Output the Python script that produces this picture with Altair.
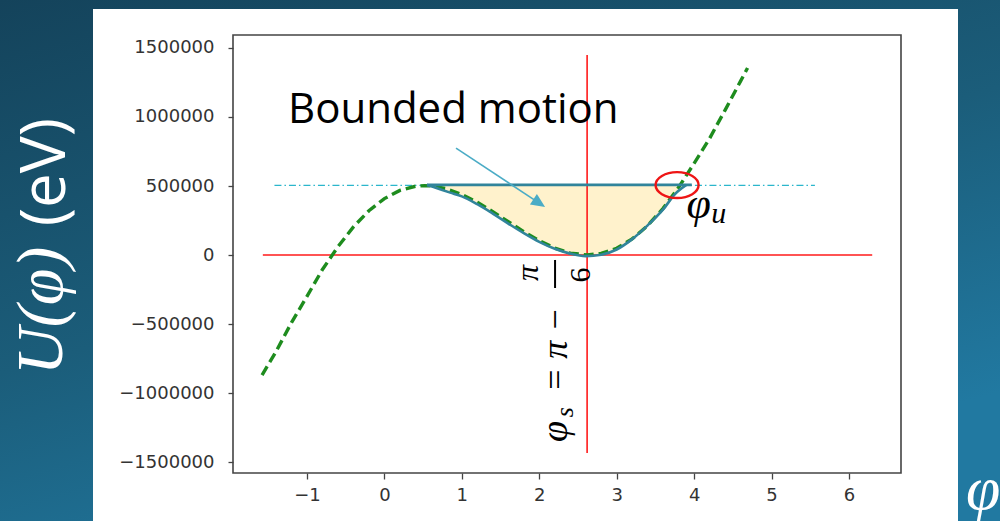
import altair as alt
import pandas as pd

# Potential well U(phi) in eV, sampled along the curve
phi = [-1.58, -1.4, -1.2, -1.0, -0.8, -0.6, -0.4, -0.2, 0.0, 0.2, 0.4, 0.52, 0.6,
       0.8, 1.0, 1.2, 1.4, 1.6, 1.8, 2.0, 2.2, 2.4, 2.62, 2.8, 3.0, 3.2, 3.4, 3.6,
       3.8, 4.0, 4.2, 4.4, 4.6, 4.69]
u_ev = [-870000, -700000, -490000, -300000, -105000, 60000, 204000, 321000, 409000,
        468000, 498000, 503000, 501000, 480000, 439000, 382000, 314000, 241000,
        169000, 104000, 50000, 14000, 0, 11000, 49000, 117000, 213000, 338000,
        490000, 664000, 845000, 1050000, 1260000, 1355000]

# Outline of the bounded-motion region
bound_phi = [0.55, 0.7, 0.85, 1.0, 1.2, 1.4, 1.6, 1.8, 2.0, 2.2, 2.4, 2.6, 2.8, 3.0,
             3.2, 3.4, 3.6, 3.75, 3.9]
bound_u = [508000, 480000, 452000, 425000, 368000, 300000, 228000, 158000, 95000,
           45000, 10000, -8000, 2000, 40000, 115000, 215000, 330000, 440000, 508000]
bound_top = 508000
bound_top_phi = [0.55, 3.97]

separatrix_u = 505000
separatrix_phi = [-1.42, 5.56]

phi_s = 2.618           # pi - pi/6
zero_line_phi = [-1.57, 6.30]
phi_s_line_u = [-1435000, 1450000]

phi_u_mark = (3.78, 507000)
arrow_from = (0.925, 775000)
arrow_to = (2.0, 376000)

x_ticks = [-1, 0, 1, 2, 3, 4, 5, 6]
y_ticks = [-1500000, -1000000, -500000, 0, 500000, 1000000, 1500000]

X_DOM = [-1.9553, 6.6718]
Y_DOM = [-1579700, 1594200]

W, H = 668, 438

xs = alt.Scale(domain=X_DOM, nice=False, zero=False)
ys = alt.Scale(domain=Y_DOM, nice=False, zero=False)

axis_common = dict(grid=False, domain=False, tickColor="#444444", tickWidth=1.3,
                   labelFont="DejaVu Sans", labelFontSize=18, labelColor="#333333",
                   title=None, zindex=1, format="d")
x_axis = alt.Axis(values=x_ticks, tickSize=6, labelPadding=7, **axis_common)
y_axis = alt.Axis(values=y_ticks, tickSize=5, labelPadding=14, **axis_common)

one = pd.DataFrame({"k": [0]})

# slide background and white panel
bg = alt.Chart(one).mark_rect(
    fill=alt.LinearGradient(
        gradient="linear", x1=0, y1=0, x2=0.55, y2=1,
        stops=[alt.GradientStop(color="#14435b", offset=0),
               alt.GradientStop(color="#1b5d7a", offset=0.55),
               alt.GradientStop(color="#2179a1", offset=1)])
).encode(x=alt.value(-233), x2=alt.value(767), y=alt.value(-35), y2=alt.value(486))

panel = alt.Chart(one).mark_rect(fill="white").encode(
    x=alt.value(-140), x2=alt.value(725), y=alt.value(-26), y2=alt.value(486))

curve = pd.DataFrame({"phi": phi, "u": u_ev})
bound = pd.DataFrame({"phi": bound_phi, "u": bound_u, "top": [bound_top] * len(bound_phi)})

fill = alt.Chart(bound).mark_area(color="#FFF2CC", opacity=1).encode(
    x=alt.X("phi:Q", scale=xs, axis=x_axis),
    y=alt.Y("u:Q", scale=ys, axis=y_axis),
    y2="top:Q")

red_h = alt.Chart(pd.DataFrame({"a": [zero_line_phi[0]], "b": [zero_line_phi[1]], "v": [0]})
                  ).mark_rule(color="#ff1a1a", strokeWidth=1.6).encode(
    x=alt.X("a:Q", scale=xs), x2="b:Q", y=alt.Y("v:Q", scale=ys))
red_v = alt.Chart(pd.DataFrame({"p": [phi_s], "a": [phi_s_line_u[0]], "b": [phi_s_line_u[1]]})
                  ).mark_rule(color="#ff1a1a", strokeWidth=1.6).encode(
    x=alt.X("p:Q", scale=xs), y=alt.Y("a:Q", scale=ys), y2="b:Q")

sep = alt.Chart(pd.DataFrame({"a": [separatrix_phi[0]], "b": [separatrix_phi[1]], "v": [separatrix_u]})
                ).mark_rule(color="#2bb6cc", strokeWidth=1.3, strokeDash=[7, 3, 1.5, 3]).encode(
    x=alt.X("a:Q", scale=xs), x2="b:Q", y=alt.Y("v:Q", scale=ys))

green = alt.Chart(curve).mark_line(color="#1e8c1e", strokeWidth=3.4, strokeDash=[10, 5]).encode(
    x=alt.X("phi:Q", scale=xs), y=alt.Y("u:Q", scale=ys), order="phi:Q")

bound_line = alt.Chart(bound).mark_line(color="#31849B", strokeWidth=2.6, interpolate="monotone").encode(
    x=alt.X("phi:Q", scale=xs), y=alt.Y("u:Q", scale=ys), order="phi:Q")
top_line = alt.Chart(pd.DataFrame({"a": [bound_top_phi[0]], "b": [bound_top_phi[1]], "v": [bound_top]})
                     ).mark_rule(color="#31849B", strokeWidth=2.6).encode(
    x=alt.X("a:Q", scale=xs), x2="b:Q", y=alt.Y("v:Q", scale=ys))

arrow_df = pd.DataFrame({"x0": [arrow_from[0]], "y0": [arrow_from[1]],
                         "x1": [arrow_to[0]], "y1": [arrow_to[1]]})
shaft = alt.Chart(arrow_df).mark_rule(color="#4BACC6", strokeWidth=1.6).encode(
    x=alt.X("x0:Q", scale=xs), y=alt.Y("y0:Q", scale=ys), x2="x1:Q", y2="y1:Q")
head = alt.Chart(arrow_df).mark_point(
    shape="M0,-1L0.9,1L-0.9,1Z", size=196, angle=123.5, filled=True,
    color="#4BACC6", opacity=1).encode(
    x=alt.X("x1:Q", scale=xs), y=alt.Y("y1:Q", scale=ys))

ellipse = alt.Chart(pd.DataFrame({"p": [phi_u_mark[0]], "v": [phi_u_mark[1]]})).mark_point(
    shape="M-1,0A1,0.6,0,1,0,1,0A1,0.6,0,1,0,-1,0Z", size=1849, filled=False,
    color="#ee1515", strokeWidth=2.4, opacity=1).encode(
    x=alt.X("p:Q", scale=xs), y=alt.Y("v:Q", scale=ys))


def label(text, x, y, size, font="Liberation Serif", style="italic", align="left",
          baseline="alphabetic", angle=0, color="black"):
    kw = dict(text=text, fontSize=size, font=font, align=align, baseline=baseline,
              color=color)
    if style:
        kw["fontStyle"] = style
    if angle:
        kw["angle"] = angle
    return alt.Chart(pd.DataFrame({"x": [x], "y": [y]})).mark_text(**kw).encode(
        x=alt.X("x:Q", scale=xs), y=alt.Y("y:Q", scale=ys))


bounded = label("Bounded motion", -1.245, 957000, 42, font="Open Sans", style=None)
phi_u = label("φ", 3.90, 270000, 44)
phi_u_sub = label("u", 4.22, 232000, 30)

phi_s_main = label("φ", 2.358, -1355000, 38, angle=270)
phi_s_sub = label("s", 2.44, -1175000, 26, angle=270)
phi_s_rest = label("= π −", 2.358, -993000, 36, angle=270)
frac_num = label("π", 1.98, -130000, 32, angle=270, align="center")
frac_den = label("6", 2.656, -145000, 30, angle=270, align="center", style=None)
frac_bar = alt.Chart(pd.DataFrame({"p": [2.204], "a": [-36000], "b": [-239000]})).mark_rule(
    color="black", strokeWidth=2).encode(
    x=alt.X("p:Q", scale=xs), y=alt.Y("a:Q", scale=ys), y2="b:Q")


def pixel_text(text, x, y, size, font, style, align, angle=0):
    kw = dict(text=text, fontSize=size, font=font, align=align, baseline="alphabetic",
              color="white")
    if style:
        kw["fontStyle"] = style
    if angle:
        kw["angle"] = angle
    return alt.Chart(one).mark_text(**kw).encode(x=alt.value(x), y=alt.value(y))


y_title_a = pixel_text("U(φ)", -171, 340, 66, "Liberation Serif", "italic", "left", 270)
y_title_b = pixel_text("(eV)", -168, 83, 62, "Open Sans", None, "right", 270)
x_title = pixel_text("φ", 733, 474, 62, "Liberation Serif", "italic", "left")

frame = alt.Chart(one).mark_rect(fillOpacity=0, stroke="#444444", strokeWidth=1.6).encode(
    x=alt.value(0), x2=alt.value(W), y=alt.value(0), y2=alt.value(H))

chart = alt.layer(
    bg, panel, fill, red_h, red_v, sep, green, bound_line, top_line, shaft, head,
    ellipse, bounded, phi_u, phi_u_sub, phi_s_main, phi_s_sub, phi_s_rest,
    frac_num, frac_den, frac_bar, y_title_a, y_title_b, x_title, frame
).properties(
    width=W, height=H,
    autosize=alt.AutoSizeParams(type="none"),
    padding={"left": 233, "top": 35, "right": 99, "bottom": 48},
    background="#14435b"
).configure_view(stroke=None)

chart.save("out.html", embed_options={"renderer": "svg", "actions": False})
